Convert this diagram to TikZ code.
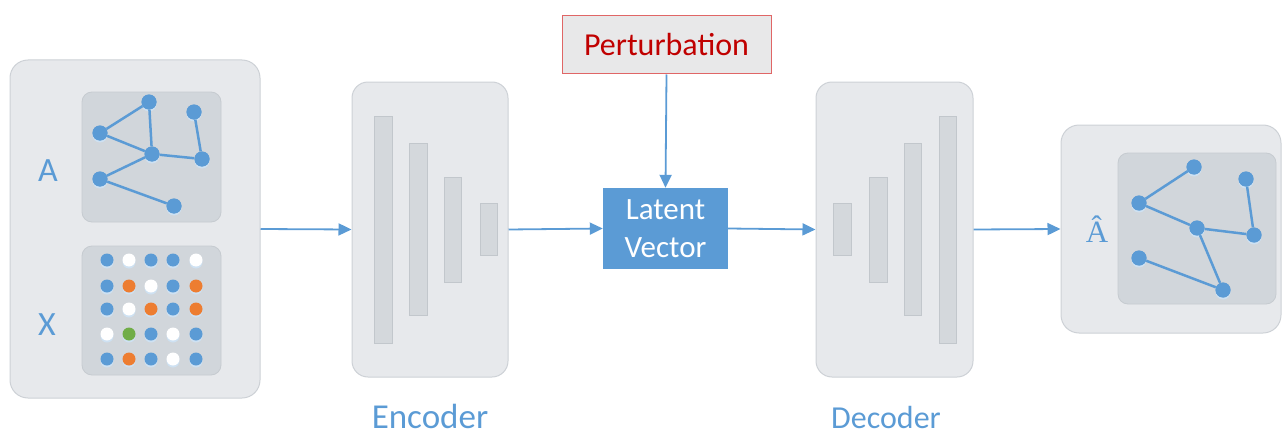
\documentclass[tikz,border=0pt]{standalone}
\usepackage{fontspec}
\setmainfont{Carlito}
\newfontfamily\serifhat{Liberation Serif}
\usetikzlibrary{arrows.meta}
\definecolor{cblue}{HTML}{5B9BD5}
\definecolor{corange}{HTML}{ED7D31}
\definecolor{cgreen}{HTML}{70AD47}
\definecolor{panelfill}{HTML}{E7E9EC}
\definecolor{panelborder}{HTML}{CDD1D6}
\definecolor{innerfill}{HTML}{D1D6DB}
\definecolor{innerborder}{HTML}{C6CBD0}
\definecolor{barfill}{HTML}{D4D8DC}
\definecolor{barborder}{HTML}{C2C7CC}
\definecolor{pertfill}{HTML}{E8E8E9}
\definecolor{pertborder}{HTML}{E06666}
\definecolor{perttext}{HTML}{C00000}
\begin{document}
\begin{tikzpicture}[x=1pt,y=-1pt,
  panel/.style={draw=panelborder, fill=panelfill, line width=1pt, rounded corners=18pt, inner sep=0pt},
  inner/.style={draw=innerborder, fill=innerfill, line width=0.8pt, rounded corners=10pt, inner sep=0pt},
  bar/.style={draw=barborder, fill=barfill, line width=0.8pt, inner sep=0pt, minimum width=18pt},
  gnode/.style={circle, fill=cblue, minimum size=15pt, inner sep=0pt,
    preaction={fill=cblue!30, transform canvas={yshift=-2pt}}},
  gedge/.style={draw=cblue, line width=2.5pt},
  dot/.style={circle, fill=#1, minimum size=13pt, inner sep=0pt,
    preaction={fill=cblue!30, transform canvas={yshift=-2pt}}},
  flow/.style={draw=cblue, line width=1.8pt, -{Triangle[length=13pt,width=12pt]}},
  lbl/.style={text=cblue, inner sep=0pt},
]
\useasboundingbox (0,0) rectangle (1282,436);

% ---------- input panel ----------
\node[panel, minimum width=250pt, minimum height=338pt] (inp) at (135,229) {};
\node[inner, minimum width=139pt, minimum height=130pt] (abox) at (151.5,157) {};
\node[inner, minimum width=139pt, minimum height=129pt] (xbox) at (151.5,310.5) {};
\node[lbl, font=\fontsize{34}{36}\selectfont] (alab) at (48,171) {A};
\node[lbl, font=\fontsize{34}{36}\selectfont] (xlab) at (47,325) {X};

% graph A
\node[gnode] (n1) at (149,102) {};
\node[gnode] (n2) at (194,112) {};
\node[gnode] (n3) at (100,133) {};
\node[gnode] (n4) at (152,154) {};
\node[gnode] (n5) at (202,159) {};
\node[gnode] (n6) at (100,179) {};
\node[gnode] (n7) at (174,206) {};
\draw[gedge] (n3) -- (n1) (n1) -- (n4) (n3) -- (n4) (n4) -- (n5) (n2) -- (n5) (n4) -- (n6) (n6) -- (n7);
\foreach \n in {n1,n2,n3,n4,n5,n6,n7} \fill[cblue] (\n) circle (7.5pt);

% matrix X
\foreach \row/\y/\cols in {1/260/{cblue,white,cblue,cblue,white},
                           2/286/{cblue,corange,white,cblue,corange},
                           3/309/{cblue,white,corange,cblue,corange},
                           4/334/{white,cgreen,cblue,white,cblue},
                           5/359/{cblue,corange,cblue,white,cblue}}{
  \foreach \c [count=\i] in \cols {
    \pgfmathsetmacro{\xx}{{107,129,151,173,196}[\i-1]}
    \node[dot=\c] (d\row\i) at (\xx,\y) {};
  }
}

% ---------- encoder ----------
\node[panel, rounded corners=16pt, minimum width=156pt, minimum height=295pt] (enc) at (430,229.5) {};
\node[bar, minimum height=227pt] (e1) at (383,229.5) {};
\node[bar, minimum height=172pt] (e2) at (418,229) {};
\node[bar, minimum width=17pt, minimum height=105pt] (e3) at (452.5,229.5) {};
\node[bar, minimum width=17pt, minimum height=52pt] (e4) at (488.5,229) {};
\node[lbl, font=\fontsize{35}{40}\selectfont, anchor=base, text depth=0pt] (enclab) at (430,428) {Encoder};

% ---------- perturbation / latent ----------
\node[draw=pertborder, fill=pertfill, line width=1pt, minimum width=209pt, minimum height=58pt,
      inner sep=0pt, text=perttext, font=\fontsize{32}{36}\selectfont] (pert) at (666.5,45) {Perturbation};
\node[fill=cblue, minimum width=125pt, minimum height=81pt, inner sep=0pt, text=white,
      align=center, font=\fontsize{31}{38}\selectfont] (lat) at (665.5,228.5) {Latent\\Vector};

% ---------- decoder ----------
\node[panel, rounded corners=16pt, minimum width=157pt, minimum height=295pt] (dec) at (894.5,229.5) {};
\node[bar, minimum height=52pt] (b1) at (842,229) {};
\node[bar, minimum height=105pt] (b2) at (878,229.5) {};
\node[bar, minimum width=17pt, minimum height=172pt] (b3) at (912.5,229) {};
\node[bar, minimum width=17pt, minimum height=227pt] (b4) at (947.5,229.5) {};
\node[lbl, font=\fontsize{32}{38}\selectfont, anchor=base, text depth=0pt] (declab) at (886,428) {Decoder};

% ---------- output ----------
\node[panel, minimum width=220pt, minimum height=208pt] (out) at (1171,229) {};
\node[inner, minimum width=158pt, minimum height=151pt] (obox) at (1197,228.5) {};
\node[lbl, font=\serifhat\fontsize{31}{34}\selectfont, anchor=base] (ahat) at (1097,242) {\^{A}};
\node[gnode] (m1) at (1194,167) {};
\node[gnode] (m2) at (1246,179) {};
\node[gnode] (m3) at (1139,203) {};
\node[gnode] (m4) at (1197,228) {};
\node[gnode] (m5) at (1254,235) {};
\node[gnode] (m6) at (1139,258) {};
\node[gnode] (m7) at (1223,290) {};
\draw[gedge] (m3) -- (m1) (m3) -- (m4) (m4) -- (m5) (m2) -- (m5) (m4) -- (m7) (m6) -- (m7);
\foreach \n in {m1,m2,m3,m4,m5,m6,m7} \fill[cblue] (\n) circle (7.5pt);

% ---------- connectors ----------
\draw[flow] (inp.east) -- (enc.west);
\draw[flow] (enc.east) -- (lat.west);
\draw[flow] (lat.east) -- (dec.west);
\draw[flow] (dec.east) -- (out.west);
\draw[flow] (pert.south) -- (lat.north);
\end{tikzpicture}
\end{document}
